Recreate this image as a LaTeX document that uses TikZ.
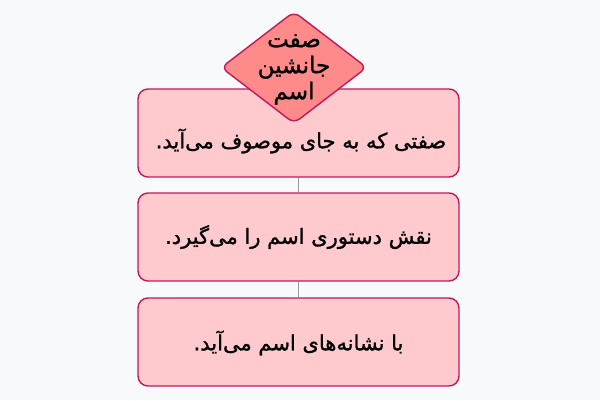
\documentclass[tikz,border=0pt]{standalone}
\usepackage{fontspec}
\setmainfont{DejaVu Sans}
\newfontfamily\arabicfont[Script=Arabic,FakeBold=1.2]{DejaVu Sans}
\TeXXeTstate=1
\usetikzlibrary{shapes.geometric}
\definecolor{bgc}{HTML}{F8F9FA}
\definecolor{edgec}{HTML}{C2185B}
\definecolor{boxfill}{HTML}{FFCACD}
\definecolor{diafill}{HTML}{FF8A8A}
\definecolor{linkc}{HTML}{999999}
\tikzset{
  boxnode/.style={draw=edgec, line width=1.4pt, fill=boxfill, rounded corners=10pt,
    minimum width=321pt, minimum height=88pt, inner sep=0pt},
  dianode/.style={diamond, draw=edgec, line width=1.4pt, fill=diafill, rounded corners=7pt,
    minimum width=146pt, minimum height=112pt, inner sep=0pt},
  txt/.style={font=\arabicfont\fontsize{21}{26}\selectfont, text=black, align=center},
  link/.style={draw=linkc, line width=1.2pt}
}
\begin{document}
\begin{tikzpicture}[x=1pt,y=-1pt]
\fill[bgc] (0,0) rectangle (600,400);
\useasboundingbox (0,0) rectangle (600,400);
\node[boxnode] (b1) at (298.5,133) {};
\node[txt] (t1) at (301,141) {\beginR صفتی که به جای موصوف می‌آید.\endR};
\node[dianode] (d) at (294,67.5) {};
\node[txt, font=\arabicfont\fontsize{23}{26}\selectfont] (dt) at (294,69.5) {\beginR صفت\endR\\ \beginR جانشین\endR\\ \beginR اسم\endR};
\node[boxnode] (b2) at (298.5,237) {};
\node[txt] (t2) at (298.5,237) {\beginR نقش دستوری اسم را می‌گیرد.\endR};
\node[boxnode] (b3) at (298.5,342) {};
\node[txt] (t3) at (298.5,343) {\beginR با نشانه‌های اسم می‌آید.\endR};
\draw[link] (b1.south) -- (b2.north);
\draw[link] (b2.south) -- (b3.north);
\end{tikzpicture}
\end{document}
